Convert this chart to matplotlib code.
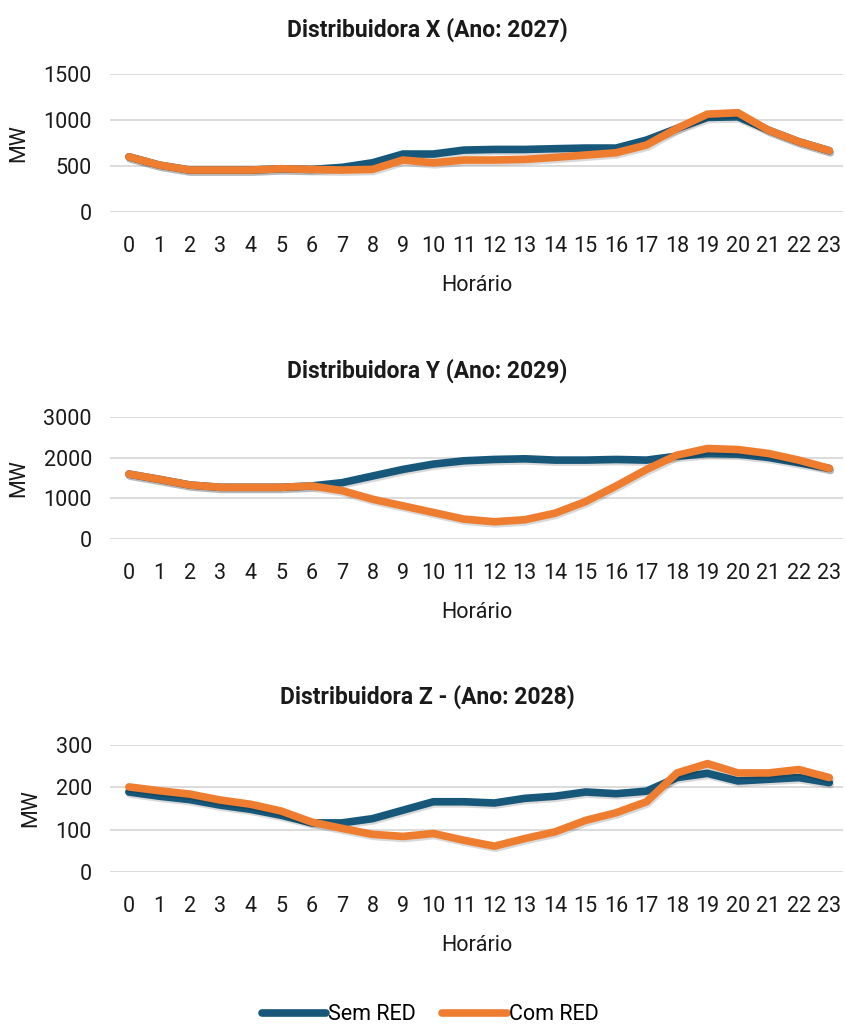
import matplotlib
matplotlib.use("Agg")
import matplotlib.pyplot as plt
import matplotlib.patheffects as pe
from matplotlib.lines import Line2D

plt.rcParams['font.family'] = ['Roboto', 'DejaVu Sans']

hours = list(range(24))

x_sem = [600, 510, 456, 456, 456, 470, 463, 485, 535, 630, 630, 673, 680, 680, 688, 695, 695, 782, 909, 1028, 1035, 890, 764, 666]
x_com = [600, 510, 456, 456, 456, 470, 463, 456, 463, 565, 535, 565, 565, 572, 594, 619, 644, 728, 909, 1064, 1079, 890, 764, 666]

y_sem = [1597, 1467, 1328, 1271, 1271, 1271, 1304, 1385, 1548, 1711, 1842, 1923, 1956, 1972, 1940, 1940, 1956, 1940, 2037, 2100, 2086, 2005, 1874, 1736]
y_com = [1597, 1467, 1328, 1271, 1271, 1271, 1304, 1190, 978, 815, 652, 489, 424, 473, 636, 921, 1304, 1711, 2062, 2225, 2200, 2103, 1940, 1736]

z_sem = [189, 179, 171, 158, 148, 134, 116, 116, 126, 146, 166, 166, 163, 174, 179, 189, 185, 191, 223, 233, 215, 219, 223, 211]
z_com = [201, 192, 184, 170, 160, 144, 118, 103, 89, 84, 91, 75, 61, 79, 95, 122, 140, 166, 234, 256, 234, 234, 242, 223]

titles = ["Distribuidora X (Ano: 2027)", "Distribuidora Y (Ano: 2029)", "Distribuidora Z - (Ano: 2028)"]
yticks_list = [[0, 500, 1000, 1500], [0, 1000, 2000, 3000], [0, 100, 200, 300]]
series = [(x_sem, x_com), (y_sem, y_com), (z_sem, z_com)]
legend_labels = ["Sem RED", "Com RED"]

TEAL = "#17587A"
ORANGE = "#EE7D30"

W, H = 846, 1027
fig = plt.figure(figsize=(W / 100, H / 100), dpi=100)

# (top_px, bottom_px) of each plotting area, title y
boxes = [(74, 212), (417, 539), (745, 872)]
title_y = [30, 371, 697]
left_px, right_px = 110, 843

shadow = [pe.SimpleLineShadow(offset=(0.8, -1.5), shadow_color="#000000", alpha=0.15), pe.Normal()]

for (top, bot), ty, title, yt, (sem, com) in zip(boxes, title_y, titles, yticks_list, series):
    ax = fig.add_axes([left_px / W, 1 - bot / H, (right_px - left_px) / W, (bot - top) / H])
    ax.plot(hours, sem, color=TEAL, lw=5.5, solid_capstyle='round', solid_joinstyle='round', path_effects=shadow, zorder=3)
    ax.plot(hours, com, color=ORANGE, lw=5.5, solid_capstyle='round', solid_joinstyle='round', path_effects=shadow, zorder=4)
    ax.set_xlim(-0.62, 23.45)
    ax.set_ylim(yt[0], yt[-1])
    ax.set_yticks(yt)
    ax.set_xticks(hours)
    ax.set_xticklabels([str(h) for h in hours])
    ax.grid(axis='y', color="#D9D9D9", lw=1.3)
    ax.set_axisbelow(True)
    for s in ax.spines.values():
        s.set_visible(False)
    ax.tick_params(length=0, labelsize=15.5, colors="#1a1a1a")
    ax.tick_params(axis='x', pad=17)
    ax.tick_params(axis='y', pad=13)
    fig.text(427 / W, 1 - ty / H, title, fontsize=16.5, fontweight='bold', color="#1a1a1a",
             ha='center', va='center')
    ax.set_xlabel("Horário", fontsize=15.5, labelpad=13, color="#1a1a1a")
    ax.set_ylabel("MW", fontsize=15.5, labelpad=10, color="#1a1a1a")

handles = [Line2D([0], [0], color=TEAL, lw=5.5, solid_capstyle='round'),
           Line2D([0], [0], color=ORANGE, lw=5.5, solid_capstyle='round')]
fig.legend(handles, legend_labels, loc='center', bbox_to_anchor=(430 / W, 1 - 1015 / H), ncol=2,
           frameon=False, fontsize=15.5, handlelength=3.0, handletextpad=0.1, columnspacing=1.2)

fig.savefig("out.png", dpi=100, facecolor="white")
